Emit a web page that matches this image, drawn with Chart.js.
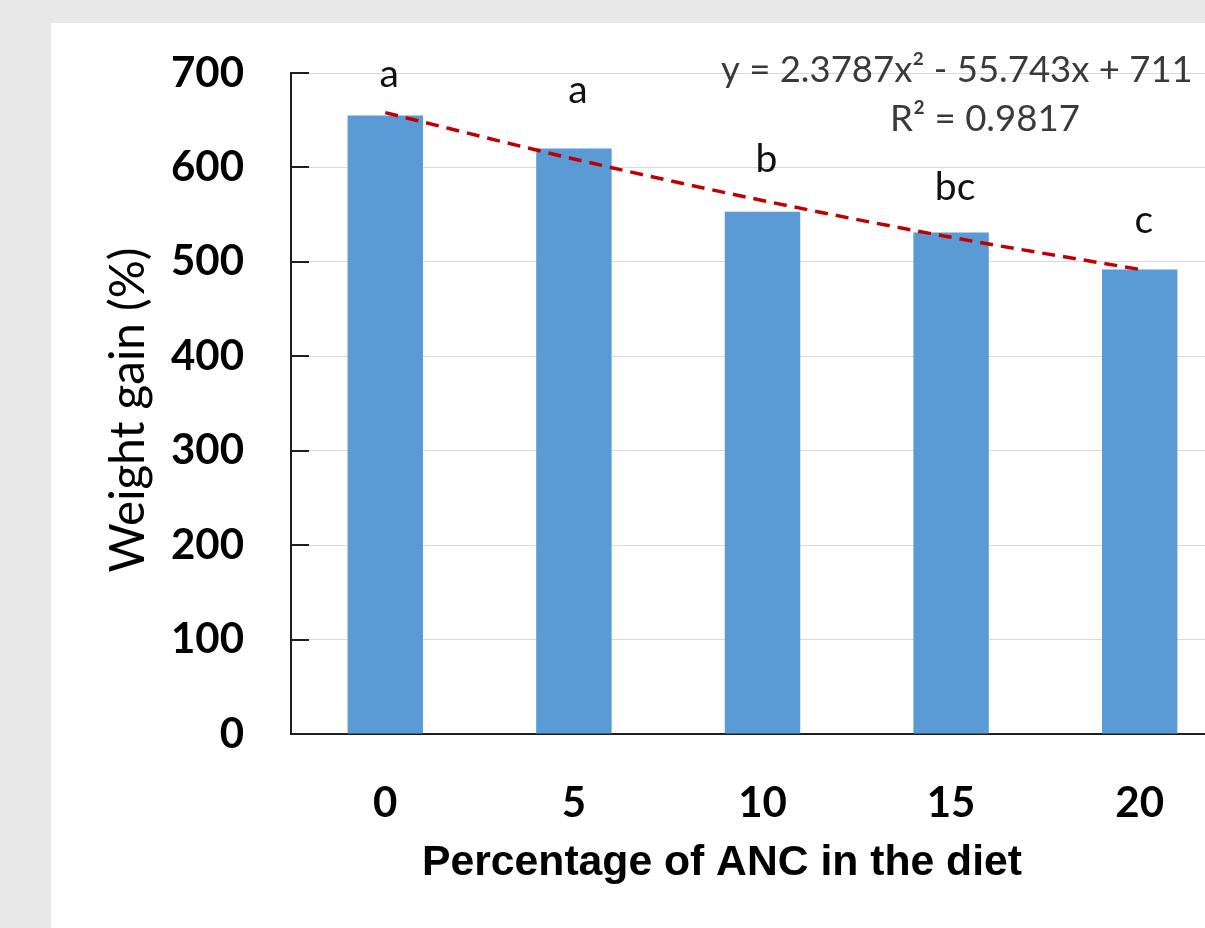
<!DOCTYPE html>
<html>
<head>
<meta charset="utf-8">
<title>Weight gain vs ANC</title>
<script src="https://cdn.jsdelivr.net/npm/chart.js@4.4.1/dist/chart.umd.min.js"></script>
<style>
  html, body { margin: 0; padding: 0; background: #e8e8e8; overflow: hidden; width: 1205px; height: 928px; }
  #wrap { position: absolute; left: 0; top: 0; width: 1300px; height: 928px; }
  canvas { display: block; }
</style>
</head>
<body>
<div id="wrap"><canvas id="c" width="1300" height="928"></canvas></div>
<script>
// Diet levels (% ANC) and measured weight gain (%)
const dietLevels = ['0', '5', '10', '15', '20'];
const weightGain = [655, 620, 553, 531, 492];
// Polynomial trend evaluated at each diet level
const trendValues = [658, 609, 565, 526, 492];
// Significance letters and the height (axis units) of their baselines
const groupLetters = ['a', 'a', 'b', 'bc', 'c'];
const letterLevels = [685, 668, 595, 566, 531];
// Value axis range
const yMin = 0, yMax = 700, yStep = 100;
// Text
const equationText = 'y = 2.3787x\u00B2 - 55.743x + 711';
const rSquaredText = 'R\u00B2 = 0.9817';
const xTitle = 'Percentage of ANC in the diet';
const yTitle = 'Weight gain (%)';

const CALIBRI_LIKE = 'Lato, "Open Sans", sans-serif';
const ARIAL_LIKE = '"Liberation Sans", Arial, sans-serif';

function fitSize(ctx, text, weight, family, width) {
  ctx.font = `${weight} 100px ${family}`;
  return 100 * width / ctx.measureText(text).width;
}

const panelPlugin = {
  id: 'panel',
  beforeDraw(chart) {
    const { ctx, width, height } = chart;
    ctx.save();
    ctx.fillStyle = '#e8e8e8';
    ctx.fillRect(0, 0, width, height);
    ctx.fillStyle = '#ffffff';
    ctx.fillRect(51, 23, width - 51, height - 23);
    ctx.restore();
  }
};

const innerTicksPlugin = {
  id: 'innerTicks',
  afterDraw(chart) {
    const { ctx, chartArea, scales: { y } } = chart;
    ctx.save();
    ctx.strokeStyle = '#1f1f1f';
    ctx.lineWidth = 2;
    y.ticks.forEach(t => {
      const py = Math.round(y.getPixelForValue(t.value)) + 0.0;
      ctx.beginPath();
      ctx.moveTo(chartArea.left, py);
      ctx.lineTo(chartArea.left + 18, py);
      ctx.stroke();
    });
    ctx.restore();
  }
};

const labelsPlugin = {
  id: 'labels',
  afterDraw(chart) {
    const { ctx, scales: { x, y } } = chart;
    ctx.save();

    // significance letters over the bars
    ctx.fillStyle = '#111111';
    ctx.textAlign = 'center';
    ctx.textBaseline = 'alphabetic';
    ctx.font = `400 39px ${CALIBRI_LIKE}`;
    groupLetters.forEach((s, i) => {
      ctx.fillText(s, x.getPixelForValue(i) + 4, y.getPixelForValue(letterLevels[i]));
    });

    // trendline equation
    ctx.fillStyle = '#3a3a3a';
    ctx.textAlign = 'left';
    let fs = fitSize(ctx, equationText, 400, CALIBRI_LIKE, 472);
    ctx.font = `400 ${fs}px ${CALIBRI_LIKE}`;
    ctx.fillText(equationText, 721, 82);
    fs = fitSize(ctx, rSquaredText, 400, CALIBRI_LIKE, 190);
    ctx.font = `400 ${fs}px ${CALIBRI_LIKE}`;
    ctx.fillText(rSquaredText, 890, 131);

    // axis titles
    ctx.fillStyle = '#000000';
    ctx.textAlign = 'center';
    fs = fitSize(ctx, xTitle, 700, ARIAL_LIKE, 600);
    ctx.font = `700 ${fs}px ${ARIAL_LIKE}`;
    ctx.fillText(xTitle, 722, 875);

    fs = fitSize(ctx, yTitle, 400, CALIBRI_LIKE, 325);
    ctx.font = `400 ${fs}px ${CALIBRI_LIKE}`;
    ctx.translate(144, 410);
    ctx.rotate(-Math.PI / 2);
    ctx.fillText(yTitle, 0, 0);
    ctx.restore();
  }
};

new Chart(document.getElementById('c'), {
  data: {
    labels: dietLevels,
    datasets: [
      {
        type: 'line',
        data: trendValues,
        borderColor: '#c00000',
        borderWidth: 3.5,
        borderDash: [13, 8],
        pointRadius: 0,
        cubicInterpolationMode: 'monotone',
        fill: false,
        order: 0
      },
      {
        type: 'bar',
        data: weightGain,
        backgroundColor: '#5b9bd5',
        borderWidth: 0,
        barPercentage: 0.4,
        categoryPercentage: 1.0,
        order: 1
      }
    ]
  },
  options: {
    responsive: false,
    animation: false,
    devicePixelRatio: 1,
    layout: { padding: { left: 0, top: 73, right: 66, bottom: 0 } },
    plugins: { legend: { display: false }, tooltip: { enabled: false } },
    scales: {
      x: {
        type: 'category',
        offset: true,
        grid: { display: false, drawTicks: false },
        border: { display: true, color: '#1f1f1f', width: 2 },
        ticks: {
          color: '#000000',
          padding: 44,
          maxRotation: 0,
          font: { family: CALIBRI_LIKE, size: 42, weight: 'bold' }
        },
        afterFit(scale) { scale.height = 928 - 734; }
      },
      y: {
        min: yMin,
        max: yMax,
        ticks: {
          stepSize: yStep,
          color: '#000000',
          padding: 47,
          font: { family: CALIBRI_LIKE, size: 42, weight: 'bold' }
        },
        grid: { color: '#d9d9d9', lineWidth: 1, drawTicks: false },
        border: { display: true, color: '#1f1f1f', width: 2 },
        afterFit(scale) { scale.width = 291; }
      }
    }
  },
  plugins: [panelPlugin, innerTicksPlugin, labelsPlugin]
});
</script>
</body>
</html>
